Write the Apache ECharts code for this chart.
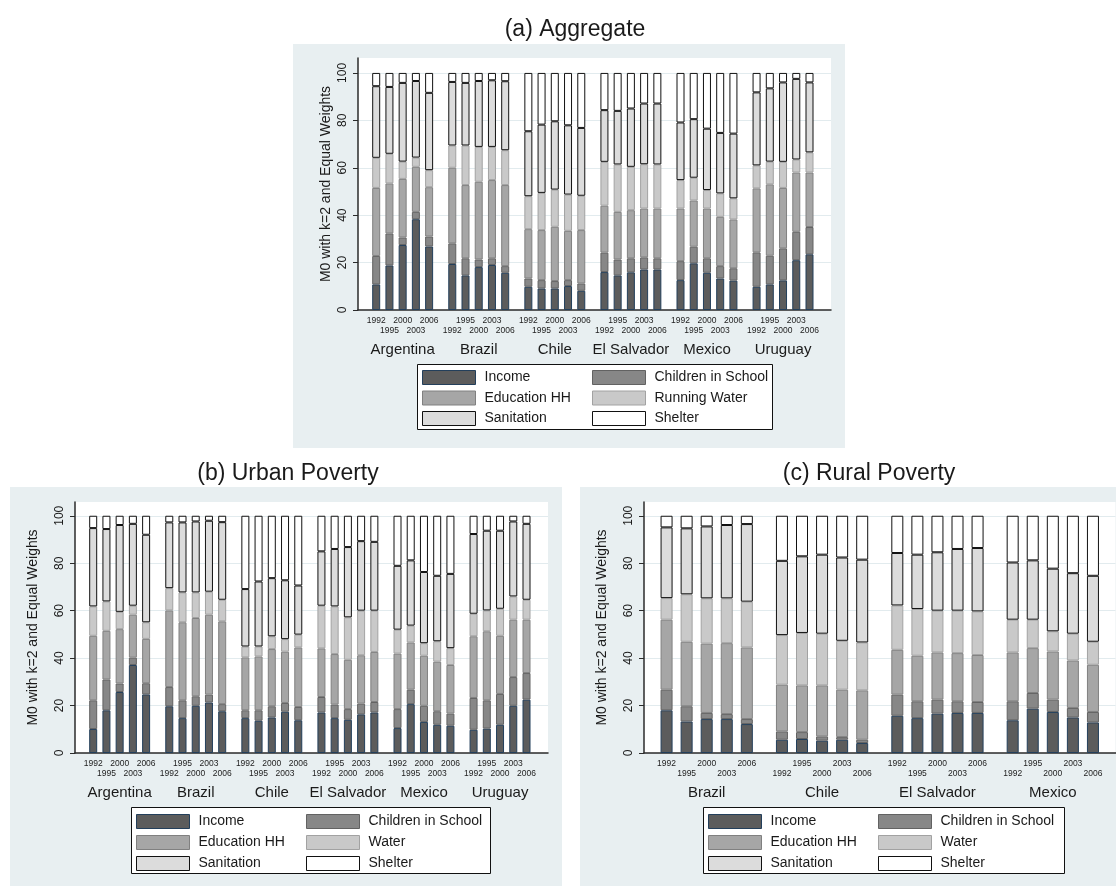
<!DOCTYPE html>
<html>
<head>
<meta charset="utf-8">
<script src="https://cdn.jsdelivr.net/npm/echarts@6/dist/echarts.min.js"></script>
<style>
  html, body { margin: 0; background: #fff; }
  #chart { width: 1116px; height: 886px; }
</style>
</head>
<body>
<div id="chart"></div>
<script>
// labels
const years = ['1992', '1995', '2000', '2003', '2006'];
const countriesAB = ['Argentina', 'Brazil', 'Chile', 'El Salvador', 'Mexico', 'Uruguay'];
const countriesC = ['Brazil', 'Chile', 'El Salvador', 'Mexico'];
const yTicks = [0, 20, 40, 60, 80, 100];
const axisTitle = 'M0 with k=2 and Equal Weights';
const namesA = ['Income', 'Children in School', 'Education HH', 'Running Water', 'Sanitation', 'Shelter'];
const namesBC = ['Income', 'Children in School', 'Education HH', 'Water', 'Sanitation', 'Shelter'];

// (a) Aggregate -- 5 years per country, countriesAB order
const aggIncome    = [10.8, 18.8, 27.4, 38.3, 26.8, 19.4, 14.6, 18.1, 19.0, 15.7, 9.8, 9.1, 9.1, 10.1, 8.1, 16.0, 14.6, 15.9, 17.1, 17.1, 12.6, 19.7, 15.7, 13.3, 12.4, 9.8, 10.8, 12.5, 21.0, 23.5];
const aggChildren  = [12.0, 13.5, 3.2, 3.1, 4.2, 8.7, 7.2, 3.2, 2.8, 2.8, 3.5, 3.5, 3.1, 2.5, 3.1, 8.2, 6.7, 5.9, 5.1, 4.7, 8.0, 7.0, 6.1, 5.2, 5.2, 14.5, 12.1, 13.5, 12.0, 11.5];
const aggEducation = [28.7, 21.1, 24.7, 19.0, 20.8, 31.9, 30.9, 32.8, 33.0, 34.2, 20.8, 21.1, 22.9, 20.8, 22.5, 19.8, 20.1, 20.3, 20.6, 21.0, 22.2, 19.5, 21.0, 20.8, 20.6, 27.0, 30.1, 25.5, 25.0, 23.0];
const aggWater     = [12.7, 12.5, 7.3, 3.9, 7.2, 9.4, 16.7, 14.7, 14.0, 14.7, 13.9, 15.7, 15.7, 15.3, 14.5, 18.5, 20.0, 18.3, 18.7, 18.6, 12.0, 9.6, 7.8, 9.9, 8.9, 9.7, 9.6, 11.0, 5.5, 8.5];
const aggSanitation = [30.2, 28.2, 33.2, 32.3, 32.6, 26.8, 26.4, 27.8, 28.1, 29.1, 27.4, 28.8, 28.8, 29.2, 28.6, 21.8, 22.6, 24.6, 25.6, 25.7, 24.3, 24.7, 25.9, 25.5, 27.3, 30.8, 30.9, 33.5, 34.0, 29.5];
const aggShelter   = [5.6, 5.9, 4.2, 3.4, 8.4, 3.8, 4.2, 3.4, 3.1, 3.5, 24.6, 21.8, 20.4, 22.1, 23.2, 15.7, 16.0, 15.0, 12.9, 12.9, 20.9, 19.5, 23.5, 25.3, 25.6, 8.2, 6.5, 4.0, 2.5, 4.0];

// (b) Urban poverty
const urbIncome    = [10.1, 18.0, 25.7, 37.1, 24.7, 19.7, 14.7, 19.9, 21.3, 17.6, 14.7, 13.6, 15.0, 17.4, 13.8, 17.1, 14.7, 14.0, 16.3, 17.1, 10.5, 20.6, 13.1, 11.9, 11.5, 9.8, 10.3, 11.9, 19.9, 22.5];
const urbChildren  = [12.1, 13.0, 3.6, 3.1, 4.7, 8.1, 7.5, 4.0, 3.3, 3.0, 3.3, 4.4, 4.7, 3.7, 5.6, 6.5, 5.7, 4.5, 4.5, 4.4, 8.0, 6.1, 6.8, 5.7, 5.1, 13.4, 11.9, 13.0, 12.1, 11.2];
const urbEducation = [27.2, 20.5, 22.9, 18.1, 18.7, 32.3, 32.9, 33.0, 33.7, 34.9, 22.3, 22.7, 24.1, 21.6, 25.1, 20.5, 21.3, 20.8, 20.4, 21.1, 23.4, 19.9, 21.1, 20.9, 20.5, 26.0, 29.1, 24.5, 24.2, 22.5];
const urbWater     = [12.4, 12.4, 7.3, 3.8, 7.0, 9.4, 12.6, 10.8, 9.7, 9.1, 4.6, 4.2, 5.4, 5.3, 5.4, 18.0, 20.1, 17.9, 18.8, 17.4, 10.1, 7.1, 5.3, 8.6, 7.1, 9.5, 8.8, 11.4, 9.8, 8.4];
const urbSanitation = [33.0, 30.5, 36.6, 34.5, 36.9, 27.7, 29.5, 29.9, 29.9, 32.7, 24.2, 27.4, 24.5, 24.8, 20.7, 22.9, 24.2, 29.6, 29.3, 29.0, 26.9, 27.5, 30.0, 27.6, 31.3, 33.6, 33.6, 32.9, 31.6, 32.0];
const urbShelter   = [5.2, 5.6, 3.9, 3.4, 8.0, 2.8, 2.8, 2.4, 2.1, 2.7, 30.9, 27.7, 26.3, 27.2, 29.4, 15.0, 14.0, 13.2, 10.7, 11.0, 21.1, 18.8, 23.7, 25.3, 24.5, 7.7, 6.3, 6.3, 2.4, 3.4];

// (c) Rural poverty -- countriesC order
const rurIncome    = [18.0, 13.3, 14.3, 14.3, 12.2, 5.6, 5.9, 5.2, 5.6, 4.2, 15.7, 14.7, 16.6, 16.9, 16.9, 13.8, 18.7, 17.3, 15.0, 12.9];
const rurChildren  = [8.7, 6.4, 2.6, 2.1, 2.1, 3.5, 2.9, 1.8, 1.1, 1.4, 8.9, 7.1, 5.9, 4.9, 4.6, 8.0, 6.6, 5.2, 4.0, 4.4];
const rurEducation = [29.5, 27.2, 29.2, 29.9, 30.2, 19.7, 19.7, 21.5, 20.0, 20.8, 18.9, 19.2, 19.9, 20.3, 19.8, 20.6, 18.9, 20.3, 20.0, 19.9];
const rurWater     = [9.1, 20.0, 19.1, 18.9, 19.3, 20.9, 22.1, 21.8, 20.6, 20.2, 18.7, 19.7, 17.6, 17.9, 18.4, 13.8, 12.0, 8.5, 11.3, 9.7];
const rurSanitation = [29.8, 27.8, 30.3, 30.9, 32.7, 31.3, 32.3, 33.3, 35.1, 34.9, 22.1, 22.9, 24.6, 26.0, 26.7, 24.1, 25.0, 26.4, 25.5, 27.8];
const rurShelter   = [4.9, 5.3, 4.5, 3.9, 3.5, 19.0, 17.1, 16.4, 17.6, 18.5, 15.7, 16.4, 15.4, 14.0, 13.6, 19.7, 18.8, 22.3, 24.2, 25.3];

const FONT = '"Liberation Sans", Arial, Helvetica, sans-serif';
const BOX_BG = '#e8eff1';
const GRID_LINE = '#e2ebee';
const INK = '#1a1a1a';
const SUB = 4;         // category cells between neighbouring years
const GROUP_STEP = 7;  // cells between last bar of one country and first of next

const segStyles = [
  { color: '#5c5c5c', borderColor: '#233f5b' },
  { color: '#878787', borderColor: '#626262' },
  { color: '#a6a6a6', borderColor: '#808080' },
  { color: '#c9c9c9', borderColor: '#a2a2a2' },
  { color: '#dcdcdc', borderColor: '#111111' },
  { color: '#ffffff', borderColor: '#111111' }
];

const panels = [
  {
    title: '(a) Aggregate', titleX: 570, titleTop: 13,
    box: [293, 44, 552, 404],
    grid: { left: 358, top: 58, width: 473, height: 252 }, yMax: 106.3, nameGap: 25,
    countries: countriesAB, lead: 5, cells: 143, barWidth: 8,
    names: namesA,
    values: [aggIncome, aggChildren, aggEducation, aggWater, aggSanitation, aggShelter],
    legendBox: [417, 364, 355, 65], legendCols: [422, 592], legendTop: 370, legendGap: 5.5
  },
  {
    title: '(b) Urban Poverty', titleX: 283, titleTop: 457,
    box: [10, 487, 552, 410],
    grid: { left: 75, top: 502, width: 473, height: 251 }, yMax: 105.8, nameGap: 35,
    countries: countriesAB, lead: 5, cells: 143, barWidth: 8,
    names: namesBC,
    values: [urbIncome, urbChildren, urbEducation, urbWater, urbSanitation, urbShelter],
    legendBox: [131, 807, 359, 66], legendCols: [136, 306], legendTop: 814, legendGap: 6
  },
  {
    title: '(c) Rural Poverty', titleX: 864, titleTop: 457,
    box: [580, 487, 552, 410],
    grid: { left: 644, top: 502, width: 473, height: 251 }, yMax: 105.8, nameGap: 35,
    countries: countriesC, lead: 4, cells: 94, barWidth: 12,
    names: namesBC,
    values: [rurIncome, rurChildren, rurEducation, rurWater, rurSanitation, rurShelter],
    legendBox: [703, 807, 361, 66], legendCols: [708, 878], legendTop: 814, legendGap: 6
  }
];

// which bar (or -1 for empty) sits in every category cell
function buildSlots(nGroups, lead, cells) {
  const slots = new Array(cells).fill(-1);
  let k = lead;
  for (let g = 0; g < nGroups; g++) {
    for (let i = 0; i < years.length; i++) {
      slots[k] = g * years.length + i;
      if (i < years.length - 1) k += SUB;
    }
    k += GROUP_STEP;
  }
  return slots;
}

const option = {
  animation: false,
  backgroundColor: '#ffffff',
  textStyle: { fontFamily: FONT },
  title: [], grid: [], xAxis: [], yAxis: [], series: [], legend: [],
  graphic: { elements: [] }
};

panels.forEach((p, gi) => {
  const slots = buildSlots(p.countries.length, p.lead, p.cells);
  const n = years.length;
  const cats = slots.map((b, k) => 'c' + k);
  const yearText = slots.map((b) => (b < 0 ? '' : (b % 2 === 0 ? years[b % n] : '\n' + years[b % n])));
  const countryText = slots.map((b) => (b >= 0 && b % n === 2 ? p.countries[Math.floor(b / n)] : ''));

  option.graphic.elements.push({
    type: 'rect', z: -10, silent: true,
    shape: { x: p.box[0], y: p.box[1], width: p.box[2], height: p.box[3] },
    style: { fill: BOX_BG }
  });
  option.graphic.elements.push({
    type: 'rect', z: 1, silent: true,
    shape: { x: p.legendBox[0] + 0.5, y: p.legendBox[1] + 0.5, width: p.legendBox[2], height: p.legendBox[3] },
    style: { fill: '#ffffff', stroke: '#111111', lineWidth: 1 }
  });

  option.title.push({
    text: p.title, left: p.titleX, top: p.titleTop, textAlign: 'center',
    textStyle: { fontSize: 23, fontWeight: 'normal', color: INK, fontFamily: FONT }
  });

  option.grid.push({
    ...p.grid, show: true, backgroundColor: '#ffffff', borderWidth: 0, containLabel: false
  });

  option.xAxis.push({
    gridIndex: gi, type: 'category', data: cats, position: 'bottom',
    axisLine: { show: true, lineStyle: { color: '#2b2b2b', width: 1.5 } },
    axisTick: { show: false },
    splitLine: { show: false },
    axisLabel: {
      interval: 0, fontSize: 8.5, lineHeight: 9.5, margin: 6, color: '#222',
      formatter: (v, i) => yearText[i]
    }
  });
  option.xAxis.push({
    gridIndex: gi, type: 'category', data: cats, position: 'bottom',
    axisLine: { show: false }, axisTick: { show: false }, splitLine: { show: false },
    axisLabel: {
      interval: 0, fontSize: 15, margin: 32, color: INK,
      formatter: (v, i) => countryText[i]
    }
  });

  option.yAxis.push({
    gridIndex: gi, type: 'value', min: 0, max: p.yMax,
    name: axisTitle, nameLocation: 'middle', nameRotate: 90, nameGap: p.nameGap,
    nameTextStyle: { fontSize: 14, color: INK },
    axisLine: { show: true, lineStyle: { color: '#2b2b2b', width: 1.5 } },
    axisTick: { show: true, length: 5, lineStyle: { color: '#2b2b2b' }, customValues: yTicks },
    axisLabel: { customValues: yTicks, rotate: 90, margin: 9, fontSize: 12, color: INK },
    splitLine: { show: true, lineStyle: { color: GRID_LINE, width: 1 } }
  });

  p.names.forEach((name, s) => {
    option.series.push({
      type: 'bar', name, stack: 'panel' + gi,
      xAxisIndex: gi * 2, yAxisIndex: gi,
      barWidth: p.barWidth,
      data: slots.map((b) => (b < 0 ? '-' : p.values[s][b])),
      itemStyle: { ...segStyles[s], borderWidth: 1 },
      emphasis: { disabled: true },
      silent: true
    });
  });

  // two legend columns, like the original 2x3 key
  [[0, 2, 4], [1, 3, 5]].forEach((col, c) => {
    option.legend.push({
      orient: 'vertical', left: p.legendCols[c], top: p.legendTop, padding: 0,
      itemWidth: 53, itemHeight: 14, itemGap: p.legendGap, icon: 'rect',
      selectedMode: false, z: 5,
      data: col.map((s) => p.names[s]),
      itemStyle: { borderWidth: 1 },
      textStyle: { fontSize: 14, color: INK, padding: [0, 0, 0, 4] }
    });
  });
});

const chart = echarts.init(document.getElementById('chart'), null, { renderer: 'canvas' });
chart.setOption(option);
</script>
</body>
</html>
